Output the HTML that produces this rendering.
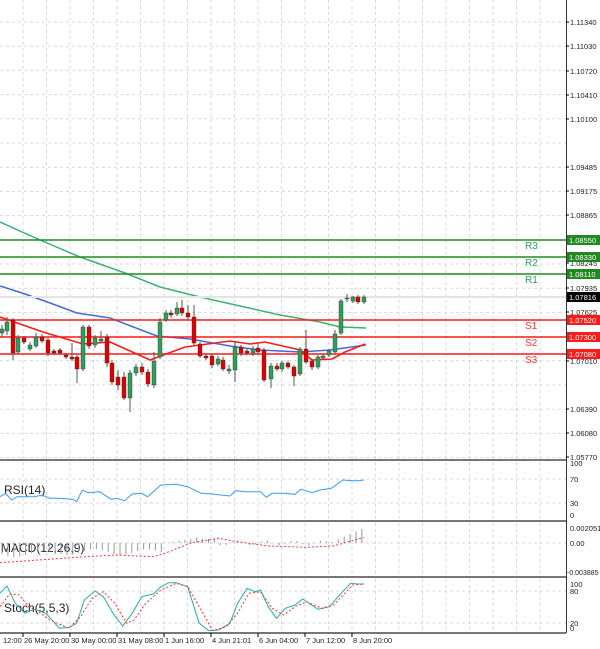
<!DOCTYPE html>
<html><head><meta charset="utf-8"><style>
html,body{margin:0;padding:0;background:#fff;width:600px;height:649px;overflow:hidden}
svg{display:block;font-family:"Liberation Sans",sans-serif}
</style></head><body>
<svg id="s" width="600" height="649" viewBox="0 0 600 649" xmlns="http://www.w3.org/2000/svg">
<g id="grid" stroke="#d8d8d8" stroke-width="1" stroke-dasharray="3,3"></g>
<g id="main"></g>
<g id="ax" font-size="7.5" fill="#222"></g>
</svg>
<script>
const NS="http://www.w3.org/2000/svg";
const s=document.getElementById('s'),grid=document.getElementById('grid'),main=document.getElementById('main'),ax=document.getElementById('ax');
function el(p,tag,a,t){const e=document.createElementNS(NS,tag);for(const k in a)e.setAttribute(k,a[k]);if(t!==undefined)e.textContent=t;p.appendChild(e);return e;}
for(let x=540;x>0;x-=23.5){el(grid,'line',{x1:x,y1:0,x2:x,y2:460});el(grid,'line',{x1:x,y1:462,x2:x,y2:520});el(grid,'line',{x1:x,y1:523,x2:x,y2:576});el(grid,'line',{x1:x,y1:579,x2:x,y2:632});}
for(let y=22;y<460;y+=24.2){el(grid,'line',{x1:0,y1:y,x2:566,y2:y});}
[479,503,543,591,623].forEach(y=>el(grid,'line',{x1:0,y1:y,x2:566,y2:y}));
const pl=[["1.11340",22],["1.11030",46],["1.10720",71],["1.10410",95],["1.10100",119],["1.09485",167],["1.09175",191],["1.08865",215],["1.08245",263],["1.07935",288],["1.07625",312],["1.07010",361],["1.06390",409],["1.06080",433],["1.05770",457]];
pl.forEach(([t,y])=>{el(ax,'text',{x:570,y:y+3},t);el(ax,'line',{x1:566,y1:y,x2:569,y2:y,stroke:'#000'});});
function pl2(pts,c,w,d){el(main,'polyline',{points:pts.map(p=>p.join(',')).join(' '),fill:'none',stroke:c,'stroke-width':w||1.5,'stroke-dasharray':d||'none'});}
pl2([[0,222],[40,240],[80,257],[125,273],[160,287],[200,297],[240,306],[280,315],[320,322],[340,327],[366,328]],'#3cb371',1.5);
pl2([[0,286],[25,294],[50,303],[77,313],[110,318],[157,336],[190,339],[230,346],[260,350],[300,352],[330,350],[366,345]],'#4169e1',1.5);
el(main,'line',{x1:0,y1:297,x2:566,y2:297,stroke:'#e4e4e4','stroke-width':2});
const lv=[[240,'#228b22','R3'],[257,'#228b22','R2'],[274,'#228b22','R1'],[320,'#ff1a1a','S1'],[337,'#ff1a1a','S2'],[354,'#ff1a1a','S3']];
lv.forEach(([y,c,t])=>{el(main,'line',{x1:0,y1:y,x2:566,y2:y,stroke:c,'stroke-width':1.6});el(main,'text',{x:525,y:y+9,fill:c==='#228b22'?'#2e9e5b':'#ff3333','font-size':10},t);});
pl2([[0,317],[43,332],[83,344],[110,342],[150,360],[185,347],[200,345],[230,341],[250,344],[265,342],[300,350],[312,360],[332,359],[345,352],[365,344]],'#ff1a1a',1.6);
const C=[[2,329,333,1,325,337],[7,322,331,1,317,335],[13,320,353,0,318,360],[18,338,352,1,335,354],[24,338,342,0,336,344],[30,345,349,1,342,351],[36,337,346,1,333,348],[42,337,341,0,334,343],[48,340,353,0,338,356],[54,351,353,0,349,355],[60,350,353,0,348,355],[66,355,357,0,353,359],[72,357,359,0,343,361],[77,357,369,0,355,383],[83,327,369,1,325,371],[89,327,346,0,325,349],[95,338,345,1,335,348],[101,339,341,1,331,342],[107,337,363,0,334,367],[112,363,382,0,360,385],[118,377,385,0,370,390],[124,377,398,0,372,400],[130,373,398,1,370,412],[136,367,373,1,364,376],[142,367,372,0,363,375],[148,372,384,0,369,387],[154,361,385,1,352,388],[160,322,357,1,318,359],[166,313,320,1,310,322],[171,313,315,0,310,318],[177,308,314,1,302,316],[182,308,313,0,300,316],[188,313,317,0,305,320],[194,317,343,0,305,345],[200,344,356,0,342,358],[206,356,358,0,354,360],[212,356,365,0,354,368],[218,359,364,1,356,366],[223,360,369,0,357,371],[229,369,371,1,365,374],[235,347,370,1,342,382],[241,347,353,0,345,356],[247,351,353,0,349,355],[253,349,353,1,346,356],[258,348,352,0,343,355],[264,350,380,0,348,382],[271,366,379,1,363,388],[277,366,369,0,363,371],[282,363,369,1,361,372],[288,363,367,0,361,369],[294,367,376,0,365,386],[300,349,374,1,347,376],[306,349,362,0,330,364],[312,361,367,0,359,370],[318,357,367,1,355,369],[323,356,358,1,354,360],[329,351,355,1,349,357],[335,334,352,1,330,354],[341,301,333,1,299,335],[347,298,299,1,294,302],[353,297,301,1,296,303],[358,297,302,0,295,304],[364,297,302,1,295,304]];
C.forEach(([x,t,b,g,wt,wb])=>{el(main,'line',{x1:x,y1:wt,x2:x,y2:wb,stroke:'#555','stroke-width':1});el(main,'rect',{x:x-2,y:t,width:4,height:Math.max(1,b-t),fill:g?'#2e9e5b':'#e00000',stroke:'#333','stroke-width':0.4});});
const bx=[[240,'#1f8a1f','1.08550'],[257,'#1f8a1f','1.08330'],[274,'#1f8a1f','1.08110'],[297,'#000','1.07816'],[320,'#ff1a1a','1.07520'],[337,'#ff1a1a','1.07300'],[354,'#ff1a1a','1.07080']];
bx.forEach(([y,c,t])=>{el(ax,'rect',{x:567,y:y-5,width:33,height:10,fill:c});el(ax,'text',{x:569,y:y+3,fill:'#fff'},t);});
[[460],[521],[577],[633]].forEach(([y])=>el(main,'line',{x1:0,y1:y,x2:566,y2:y,stroke:'#777','stroke-width':2}));
el(main,'line',{x1:566.5,y1:0,x2:566.5,y2:633,stroke:'#333','stroke-width':1});
[["100",466],["70",482],["30",506],["0",518],["0.002051",531],["0.00",546],["100",587],["80",594],["20",626],["0",631]].forEach(([t,y])=>el(ax,'text',{x:570,y:y},t));
el(ax,'text',{x:567,y:575,'font-size':7},'-0.003885');
el(main,'text',{x:4,y:494,'font-size':12,fill:'#222'},'RSI(14)');
el(main,'text',{x:1,y:552,'font-size':12,fill:'#222'},'MACD(12,26,9)');
el(main,'text',{x:4,y:612,'font-size':12,fill:'#222'},'Stoch(5,5,3)');
function cv(a){return a.map(([x,y])=>[+(x/2.61).toFixed(1),+(450+y/3).toFixed(1)]);}
pl2(cv([[0,140],[15,130],[30,150],[45,140],[90,140],[110,135],[130,145],[150,145],[190,148],[200,155],[215,120],[230,128],[260,125],[290,148],[305,145],[325,152],[345,132],[370,130],[385,140],[420,105],[460,103],[490,110],[525,130],[555,132],[575,135],[600,138],[615,122],[640,125],[680,125],[695,142],[710,130],[740,130],[770,133],[785,118],[815,128],[835,120],[865,115],[895,90],[920,92],[935,92],[950,90]]),'#3a9cf5',1);
for(let i=0;i<62;i++){const x=2+i*5.9;let v;
 if(x<165)v=-(9+3*Math.sin(i*0.7)+(x<60?2:0));
 else if(x<200)v=(x-165)/35*6;
 else if(x<215)v=4;
 else if(x<330)v=Math.sin(i*1.3)*2.5;
 else v=(x-330)/36*16;
 el(main,'line',{x1:x,y1:543,x2:x,y2:543-v,stroke:'#999','stroke-width':1});}
pl2(cv([[0,338],[200,322],[300,315],[400,320],[430,310],[500,278],[570,265],[620,275],[700,288],[800,292],[870,288],[950,262]]),'#ff3030',1,'2,2');
pl2(cv([[0,430],[18,408],[40,460],[65,490],[90,478],[120,490],[155,535],[180,532],[200,520],[220,450],[248,423],[270,440],[295,490],[320,528],[345,490],[370,440],[400,432],[420,410],[440,398],[460,398],[490,410],[520,520],[545,542],[570,540],[600,520],[620,460],[645,415],[665,425],[680,420],[700,470],[722,505],[745,475],[770,465],[790,447],[830,478],[860,470],[890,430],[915,400],[935,402],[950,402]]),'#20b2aa',1);
pl2(cv([[0,470],[25,432],[50,435],[75,470],[100,485],[130,510],[180,535],[210,500],[240,445],[270,425],[300,460],[330,520],[350,510],[380,460],[420,420],[460,400],[490,410],[520,470],[555,542],[590,530],[620,490],[650,430],[680,425],[710,475],[740,495],[770,470],[800,455],[840,475],[870,465],[900,430],[920,405],[950,402]]),'#ff3030',1,'2,2');
[["12:00",3],["26 May 20:00",24],["30 May 00:00",71],["31 May 08:00",118],["1 Jun 16:00",165],["4 Jun 21:01",212],["6 Jun 04:00",259],["7 Jun 12:00",306],["8 Jun 20:00",353]].forEach(([t,x],i)=>{el(ax,'text',{x:x,y:643},t);if(i)el(ax,'line',{x1:x-1,y1:633,x2:x-1,y2:637,stroke:'#000'});});
</script>
</body></html>
